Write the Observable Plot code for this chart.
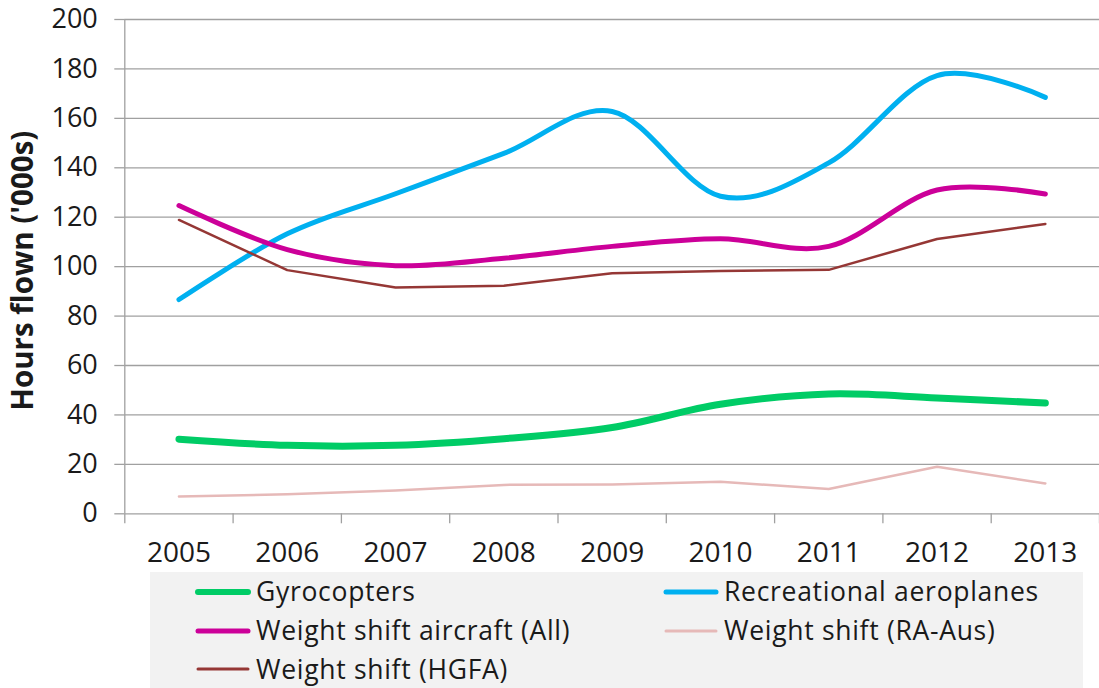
<!DOCTYPE html>
<html>
<head>
<meta charset="utf-8">
<script src="https://cdn.jsdelivr.net/npm/d3@7"></script>
<script src="https://cdn.jsdelivr.net/npm/@observablehq/plot@0.6"></script>
<style>
  html, body { margin: 0; padding: 0; background: #fff; }
  body { position: relative; width: 1099px; height: 688px; overflow: hidden; font-family: "Open Sans", Lato, sans-serif; color: #1a1a1a; }
  #chart svg { display: block; overflow: visible; }
  g[aria-label="ytitle"] text { letter-spacing: 1px; }
  #legend { position: absolute; left: 150px; top: 572px; width: 933px; height: 116px; background: #f2f2f2; }
  .item { position: absolute; display: flex; align-items: center; font-size: 26.5px; letter-spacing: 0.7px; line-height: 1; white-space: nowrap; }
  .item svg { display: block; margin-right: 5px; }
</style>
</head>
<body>
<div id="chart"></div>
<div id="legend"></div>
<script>
const years = [2005, 2006, 2007, 2008, 2009, 2010, 2011, 2012, 2013];
const gyrocopters = [30.2, 27.7, 27.7, 30.4, 34.9, 44.3, 48.5, 46.9, 44.8];
const recreational = [86.7, 113.3, 129.5, 145.8, 162.8, 128.5, 142.0, 177.3, 168.5];
const weightShiftAll = [124.7, 106.9, 100.4, 103.4, 108.2, 111.3, 108.2, 131.0, 129.4];
const weightShiftRAAus = [7.0, 7.9, 9.4, 11.7, 11.9, 13.0, 10.0, 19.0, 12.3];
const weightShiftHGFA = [118.9, 98.6, 91.6, 92.3, 97.3, 98.2, 98.7, 111.2, 117.3];
const yTicks = [0, 20, 40, 60, 80, 100, 120, 140, 160, 180, 200];
const yTitle = "Hours flown ('000s)";

const series = [
  {name: "Gyrocopters", values: gyrocopters, color: "#00cc66", width: 7, lw: 6, curve: "cardinal", col: 0, row: 0},
  {name: "Recreational aeroplanes", values: recreational, color: "#00b0f0", width: 5, lw: 5, curve: "cardinal", col: 1, row: 0},
  {name: "Weight shift aircraft (All)", values: weightShiftAll, color: "#cc0099", width: 5, lw: 5, curve: "cardinal", col: 0, row: 1},
  {name: "Weight shift (RA-Aus)", values: weightShiftRAAus, color: "#e6b9b8", width: 2.5, lw: 3, curve: "linear", col: 1, row: 1},
  {name: "Weight shift (HGFA)", values: weightShiftHGFA, color: "#953735", width: 2.5, lw: 3, curve: "linear", col: 0, row: 2}
];

const boundaries = years.map(y => y - 0.5).concat([years[years.length - 1] + 0.5]);
const grid = "#a0a0a0";

const lineMarks = series.map(s =>
  Plot.line(years.map((y, i) => ({year: y, value: s.values[i]})), {
    x: "year", y: "value", stroke: s.color, strokeWidth: s.width,
    curve: s.curve, strokeLinecap: "round", strokeLinejoin: "round"
  })
);

const chart = Plot.plot({
  width: 1099,
  height: 570,
  marginLeft: 124.3,
  marginRight: 0,
  marginTop: 19,
  marginBottom: 56.7,
  style: {fontFamily: "'Open Sans', Lato, sans-serif", color: "#1a1a1a", background: "transparent", overflow: "visible"},
  x: {domain: [2004.5, 2013.5], axis: null},
  y: {domain: [0, 200], axis: null},
  marks: [
    Plot.ruleY(yTicks, {stroke: grid, strokeWidth: 1.3}),
    Plot.axisY({ticks: yTicks, tickSize: 10, tickPadding: 17, fontSize: 27, stroke: grid, strokeWidth: 1.3, fill: "#1a1a1a", label: null}),
    Plot.ruleX([2004.5], {stroke: grid, strokeWidth: 1.3}),
    Plot.axisX({ticks: boundaries, tickSize: 10, tickFormat: () => "", stroke: grid, strokeWidth: 1.3, label: null}),
    Plot.axisX({ticks: years, tickSize: 0, tickPadding: 28, fontSize: 28, tickFormat: d => String(d), fill: "#1a1a1a", label: null}),
    Plot.text([yTitle], {frameAnchor: "left", textAnchor: "middle", dx: -101, dy: 4, rotate: -90, fontSize: 29.5, fontWeight: "bold", fill: "#1a1a1a", text: d => d, ariaLabel: "ytitle"}),
    ...lineMarks
  ]
});
document.getElementById("chart").appendChild(chart);

const legend = document.getElementById("legend");
const colX = [45, 513];
const rowY = [19.5, 58.5, 97];
for (const s of series) {
  const div = document.createElement("div");
  div.className = "item";
  div.style.left = colX[s.col] + "px";
  div.style.top = (rowY[s.row] - 18) + "px";
  div.style.height = "36px";
  div.innerHTML = `<svg width="56" height="12"><line x1="3" y1="6" x2="53" y2="6" stroke="${s.color}" stroke-width="${s.lw}" stroke-linecap="round"/></svg><span>${s.name}</span>`;
  legend.appendChild(div);
}
</script>
</body>
</html>
